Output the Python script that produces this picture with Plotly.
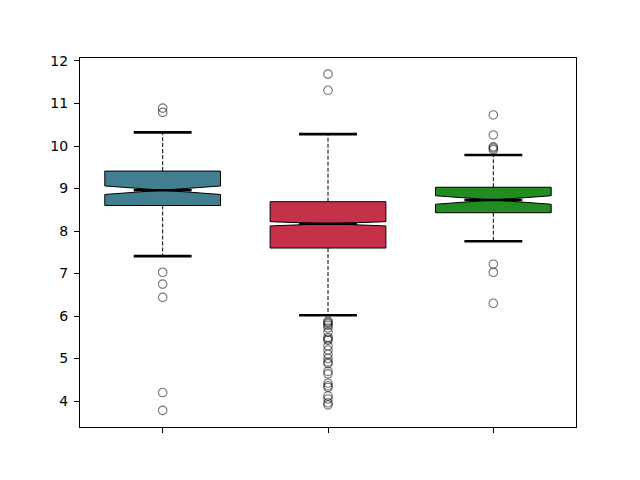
import plotly.graph_objects as go

# ---- data ----
positions = [1, 2, 3]
tick_labels = ["", "", ""]
colors = ["#417E8F", "#C6314A", "#228B22"]
q1 = [8.60, 7.60, 8.43]
median = [8.96, 8.17, 8.73]
q3 = [9.41, 8.69, 9.03]
whisker_low = [7.41, 6.02, 7.76]
whisker_high = [10.32, 10.28, 9.79]
notch_span = [0.10, 0.05, 0.10]
outliers_1 = [10.89, 10.79, 7.03, 6.75, 6.44, 4.20, 3.78]
outliers_2 = [11.69, 11.31, 5.88, 5.85, 5.82, 5.78, 5.72, 5.62, 5.50, 5.46, 5.43,
              5.30, 5.20, 5.10, 5.00, 4.92, 4.88, 4.70, 4.64, 4.42, 4.36, 4.32,
              4.12, 4.05, 3.96, 3.91]
outliers_3 = [10.73, 10.26, 9.98, 9.95, 9.91, 7.22, 7.03, 6.30]
outliers = [outliers_1, outliers_2, outliers_3]

box_width = 0.7
cap_half = box_width * 0.25

fig = go.Figure()

for i, p in enumerate(positions):
    # dashed whiskers
    fig.add_trace(go.Scatter(
        x=[p, p, None, p, p],
        y=[q3[i], whisker_high[i], None, q1[i], whisker_low[i]],
        mode="lines", line=dict(color="black", width=1, dash="4px,2px"),
        hoverinfo="skip", showlegend=False))
    # caps
    fig.add_trace(go.Scatter(
        x=[p - cap_half, p + cap_half, None, p - cap_half, p + cap_half],
        y=[whisker_high[i], whisker_high[i], None, whisker_low[i], whisker_low[i]],
        mode="lines", line=dict(color="black", width=2.6),
        hoverinfo="skip", showlegend=False))
    # notched box
    fig.add_trace(go.Box(
        x=[p], q1=[q1[i]], median=[median[i]], q3=[q3[i]],
        lowerfence=[q1[i]], upperfence=[q3[i]],
        notchspan=[notch_span[i]], notched=True, notchwidth=0.5,
        width=box_width, whiskerwidth=0,
        fillcolor=colors[i], line=dict(color="black", width=1),
        boxpoints=False, hoverinfo="skip", showlegend=False))
    # median line
    fig.add_trace(go.Scatter(
        x=[p - cap_half, p + cap_half], y=[median[i], median[i]],
        mode="lines", line=dict(color="black", width=2.6),
        hoverinfo="skip", showlegend=False))
    # outliers
    fig.add_trace(go.Scatter(
        x=[p] * len(outliers[i]), y=outliers[i], mode="markers",
        marker=dict(symbol="circle-open", size=8.5,
                    color="rgba(0,0,0,0.55)", line=dict(width=1.1)),
        hoverinfo="skip", showlegend=False))

fig.update_layout(
    width=640, height=480,
    margin=dict(l=72, r=72, t=50, b=61),
    paper_bgcolor="white", plot_bgcolor="white",
    font=dict(family="DejaVu Sans", size=14, color="black"),
    showlegend=False,
)
fig.update_xaxes(range=[0.5, 3.5], tickvals=positions, ticktext=tick_labels,
                 showline=True, linecolor="black", linewidth=1, mirror=True,
                 ticks="outside", ticklen=5, tickcolor="black",
                 showgrid=False, zeroline=False)
fig.update_yaxes(range=[3.39, 12.07], tickvals=[4, 5, 6, 7, 8, 9, 10, 11, 12],
                 showline=True, linecolor="black", linewidth=1, mirror=True,
                 ticks="outside", ticklen=5, tickcolor="black",
                 ticklabelstandoff=3,
                 showgrid=False, zeroline=False)

fig.write_html("out.html")
